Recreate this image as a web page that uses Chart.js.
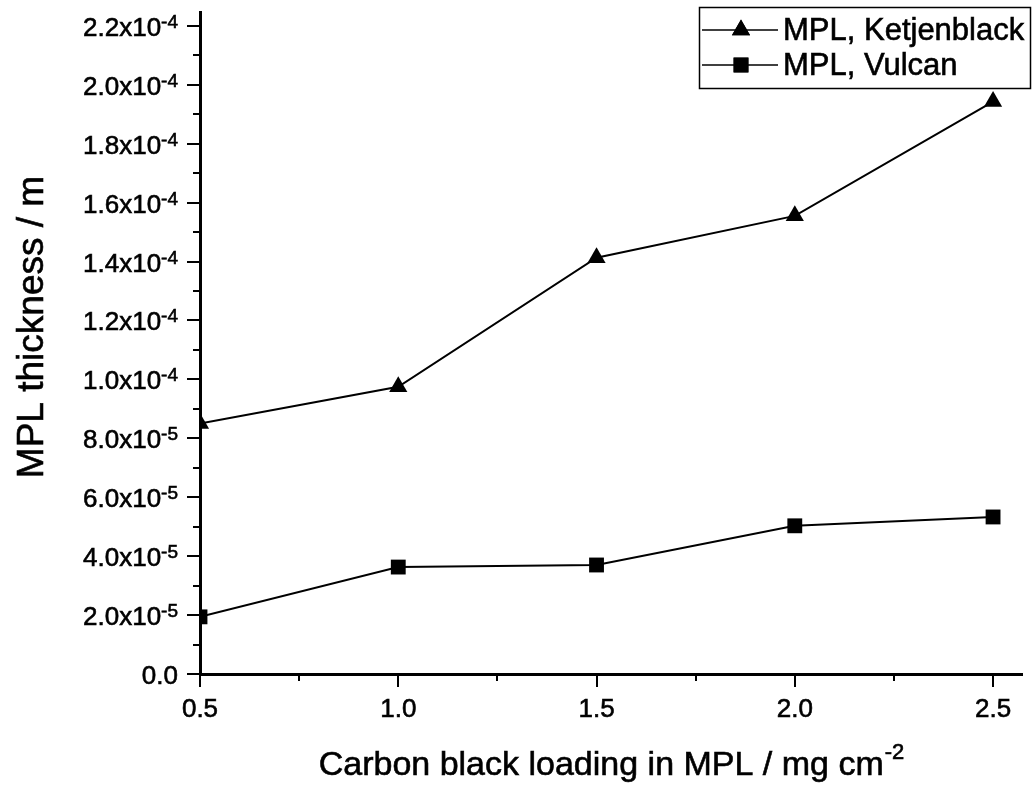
<!DOCTYPE html>
<html>
<head>
<meta charset="utf-8">
<script src="https://cdn.jsdelivr.net/npm/chart.js@4"></script>
<style>
  body { margin: 0; background: #fff; }
  canvas { display: block; }
</style>
</head>
<body>
<canvas id="chart" width="1033" height="785"></canvas>
<script>
// carregamento de negro de fumo na MPL (mg cm-2)
const loading = [0.5, 1.0, 1.5, 2.0, 2.5];
// espessura da MPL (m)
const ketjenblack = [8.5e-5, 9.75e-5, 1.413e-4, 1.555e-4, 1.943e-4];
const vulcan = [1.94e-5, 3.63e-5, 3.7e-5, 5.03e-5, 5.33e-5];

const xTickValues = [0.5, 1.0, 1.5, 2.0, 2.5];
const xTickLabels = ["0.5", "1.0", "1.5", "2.0", "2.5"];
const yTickValues = [0, 2e-5, 4e-5, 6e-5, 8e-5, 1e-4, 1.2e-4, 1.4e-4, 1.6e-4, 1.8e-4, 2e-4, 2.2e-4];
const yTickMantissa = ["0.0", "2.0x10", "4.0x10", "6.0x10", "8.0x10", "1.0x10", "1.2x10", "1.4x10", "1.6x10", "1.8x10", "2.0x10", "2.2x10"];
const yTickPower = ["", "-5", "-5", "-5", "-5", "-4", "-4", "-4", "-4", "-4", "-4", "-4"];

const FONT = "'Liberation Sans', Arial, sans-serif";

// texto um pouco mais encorpado, como no export do Origin
function heavyText(ctx, txt, x, y) {
    ctx.fillText(txt, x, y);
    ctx.lineWidth = 0.6;
    ctx.strokeText(txt, x, y);
}

// desenha ticks, rótulos, títulos e legenda no estilo do Origin
const axisDecor = {
    id: "axisDecor",
    afterDraw(chart) {
        const ctx = chart.ctx;
        const xs = chart.scales.x;
        const ys = chart.scales.y;
        const area = chart.chartArea;
        ctx.save();
        ctx.strokeStyle = "#000";
        ctx.fillStyle = "#000";

        // ticks do eixo x (maiores e menores)
        ctx.lineWidth = 2;
        for (let v = 0.5; v <= 2.5001; v += 0.25) {
            const px = Math.round(xs.getPixelForValue(v));
            const major = Math.abs(v * 2 - Math.round(v * 2)) < 1e-6;
            ctx.beginPath();
            ctx.moveTo(px, area.bottom);
            ctx.lineTo(px, area.bottom + (major ? 13 : 7));
            ctx.stroke();
        }
        // ticks do eixo y
        for (let i = 0; i <= 22; i++) {
            const py = Math.round(ys.getPixelForValue(i * 1e-5));
            const major = i % 2 === 0;
            ctx.beginPath();
            ctx.moveTo(area.left, py);
            ctx.lineTo(area.left - (major ? 13 : 7), py);
            ctx.stroke();
        }

        // rótulos do eixo x
        ctx.font = "26px " + FONT;
        ctx.textAlign = "center";
        ctx.textBaseline = "alphabetic";
        xTickValues.forEach((v, i) => {
            heavyText(ctx, xTickLabels[i], xs.getPixelForValue(v), 717);
        });

        // rótulos do eixo y com expoente
        yTickValues.forEach((v, i) => {
            const py = ys.getPixelForValue(v);
            const right = 178;
            ctx.font = "19px " + FONT;
            const wPow = yTickPower[i] ? ctx.measureText(yTickPower[i]).width : 0;
            ctx.textAlign = "right";
            if (yTickPower[i]) heavyText(ctx, yTickPower[i], right, py + 2);
            ctx.font = "26px " + FONT;
            heavyText(ctx, yTickMantissa[i], right - wPow, py + 10);
        });

        // título do eixo x
        ctx.font = "34px " + FONT;
        ctx.textAlign = "left";
        const xTitle = "Carbon black loading in MPL / mg cm";
        const wT = ctx.measureText(xTitle).width;
        ctx.font = "22px " + FONT;
        const wS = ctx.measureText("-2").width;
        const x0 = 611 - (wT + wS) / 2;
        ctx.font = "34px " + FONT;
        heavyText(ctx, xTitle, x0, 775);
        ctx.font = "22px " + FONT;
        heavyText(ctx, "-2", x0 + wT + 1, 759);

        // título do eixo y
        ctx.save();
        ctx.translate(43, 327);
        ctx.rotate(-Math.PI / 2);
        ctx.font = "37px " + FONT;
        ctx.textAlign = "center";
        heavyText(ctx, "MPL thickness / m", 0, 0);
        ctx.restore();

        // legenda
        ctx.lineWidth = 1.5;
        ctx.strokeRect(699.5, 7.5, 331, 81);
        chart.data.datasets.forEach((ds, i) => {
            const cy = 30 + i * 35;
            ctx.lineWidth = 1.5;
            ctx.beginPath();
            ctx.moveTo(702, cy);
            ctx.lineTo(778, cy);
            ctx.stroke();
            Chart.helpers.drawPoint(ctx, {
                pointStyle: ds.pointStyle,
                radius: ds.pointRadius,
                rotation: 0,
                borderWidth: 0
            }, 741, cy);
            ctx.fill();
            ctx.font = "31px " + FONT;
            ctx.textAlign = "left";
            ctx.textBaseline = "middle";
            heavyText(ctx, ds.label, 783, cy + 1);
            ctx.textBaseline = "alphabetic";
        });
        ctx.restore();
    }
};

new Chart(document.getElementById("chart"), {
    type: "line",
    data: {
        datasets: [
            {
                label: "MPL, Ketjenblack",
                data: loading.map((x, i) => ({ x: x, y: ketjenblack[i] })),
                borderColor: "#000",
                backgroundColor: "#000",
                borderWidth: 2,
                pointStyle: "triangle",
                pointRadius: 10.5,
                pointBorderWidth: 0,
                tension: 0,
                clip: 0
            },
            {
                label: "MPL, Vulcan",
                data: loading.map((x, i) => ({ x: x, y: vulcan[i] })),
                borderColor: "#000",
                backgroundColor: "#000",
                borderWidth: 2,
                pointStyle: "rect",
                pointRadius: 10.5,
                pointBorderWidth: 0,
                tension: 0,
                clip: 0
            }
        ]
    },
    options: {
        responsive: false,
        animation: false,
        events: [],
        layout: { padding: { top: 12, right: 11, left: 0, bottom: 0 } },
        plugins: {
            legend: { display: false },
            tooltip: { enabled: false }
        },
        scales: {
            x: {
                type: "linear",
                min: 0.5,
                max: 2.573,
                ticks: { display: false },
                grid: { display: false },
                border: { display: true, color: "#000", width: 3 },
                afterFit: function (scale) { scale.height = 111; }
            },
            y: {
                type: "linear",
                min: 0,
                max: 2.247e-4,
                ticks: { display: false },
                grid: { display: false },
                border: { display: true, color: "#000", width: 3 },
                afterFit: function (scale) { scale.width = 200; }
            }
        }
    },
    plugins: [axisDecor]
});
</script>
</body>
</html>
